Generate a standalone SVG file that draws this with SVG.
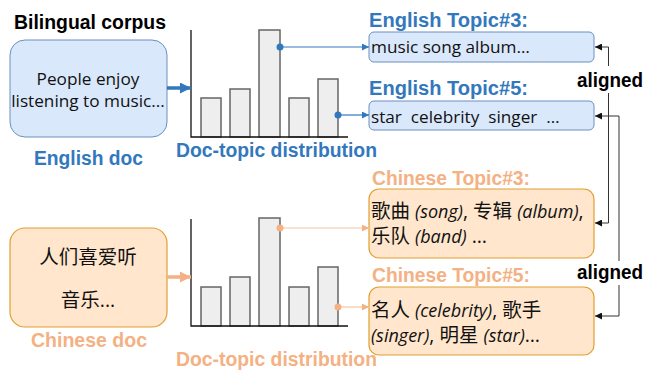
<svg xmlns="http://www.w3.org/2000/svg" width="647" height="371" viewBox="0 0 647 371">
<style>
.lbl{font-family:"Liberation Sans",Arial,sans-serif;font-weight:bold;font-size:19.5px}
.blue{fill:#3278bd}
.org{fill:#f4b183}
.body{font-family:"Open Sans","Noto Sans CJK SC",sans-serif;font-size:17.2px;fill:#111}
.cjk{font-family:"Open Sans","Noto Sans CJK SC",sans-serif;font-size:19.5px;fill:#111}
.it{font-style:italic;font-size:18px}
.ebox{fill:#dae8fc;stroke:#6c8ebf;stroke-width:1}
.cbox{fill:#ffe6cc;stroke:#e0a030;stroke-width:1.2}
.bar{fill:#eeeeee;stroke:#666;stroke-width:1.5}
.axis{stroke:#111;stroke-width:1.3;fill:none}
.bl{stroke:#3278bd;stroke-width:1.2;fill:none}
.ol{stroke:#f8c3a0;stroke-width:1.2;fill:none}
.al{stroke:#333;stroke-width:1;fill:none}
</style>
<defs>
<marker id="ab" viewBox="0 0 10 10" refX="10" refY="5" markerWidth="7" markerHeight="7" markerUnits="userSpaceOnUse" orient="auto"><path d="M0,0 L10,5 L0,10 z" fill="#3278bd"/></marker>
<marker id="ao" viewBox="0 0 10 10" refX="10" refY="5" markerWidth="7" markerHeight="7" markerUnits="userSpaceOnUse" orient="auto"><path d="M0,0 L10,5 L0,10 z" fill="#f4b183"/></marker>
<marker id="ak" viewBox="0 0 10 10" refX="10" refY="5" markerWidth="7" markerHeight="7" markerUnits="userSpaceOnUse" orient="auto-start-reverse"><path d="M0,0 L10,5 L0,10 z" fill="#111"/></marker>
<marker id="bigb" viewBox="0 0 10 10" refX="10" refY="5" markerWidth="11" markerHeight="11" markerUnits="userSpaceOnUse" orient="auto"><path d="M0,0 L10,5 L0,10 z" fill="#3278bd"/></marker>
<marker id="bigo" viewBox="0 0 10 10" refX="10" refY="5" markerWidth="11" markerHeight="11" markerUnits="userSpaceOnUse" orient="auto"><path d="M0,0 L10,5 L0,10 z" fill="#f4b183"/></marker>
</defs>
<rect width="647" height="371" fill="#fff"/>

<text class="lbl" x="14" y="29" fill="#000" textLength="152" lengthAdjust="spacingAndGlyphs">Bilingual corpus</text>

<g id="english-doc">
<rect class="ebox" x="10" y="40" width="157" height="97" rx="15"/>
<text class="body" text-anchor="middle"><tspan x="88" y="85">People enjoy</tspan><tspan x="88" y="107">listening to music...</tspan></text>
<text class="lbl blue" x="34" y="165" textLength="109" lengthAdjust="spacingAndGlyphs">English doc</text>
</g>

<g id="english-chart">
<rect class="bar" x="201" y="98" width="20" height="39"/>
<rect class="bar" x="230" y="89" width="20" height="48"/>
<rect class="bar" x="259" y="30" width="21" height="107"/>
<rect class="bar" x="289" y="98" width="20" height="39"/>
<rect class="bar" x="318" y="79" width="20" height="58"/>
<path class="axis" d="M191,30 V137 H348"/>
<text class="lbl blue" x="176" y="157" textLength="201" lengthAdjust="spacingAndGlyphs">Doc-topic distribution</text>
</g>

<g id="en-topic3">
<text class="lbl blue" x="369" y="27" textLength="159" lengthAdjust="spacingAndGlyphs">English Topic#3:</text>
<rect class="ebox" x="369" y="32" width="225" height="30" rx="5"/>
<text class="body" x="371" y="53">music song album…</text>
</g>

<g id="en-topic5">
<text class="lbl blue" x="369" y="95" textLength="159" lengthAdjust="spacingAndGlyphs">English Topic#5:</text>
<rect class="ebox" x="369" y="101" width="225" height="29" rx="5"/>
<text class="body" x="371" y="123" style="white-space:pre">star  celebrity  singer  …</text>
</g>

<g id="chinese-doc">
<rect class="cbox" x="10" y="228" width="157" height="99" rx="15"/>
<text class="cjk" text-anchor="middle"><tspan x="88" y="264">人们喜爱听</tspan><tspan x="88" y="307">音乐...</tspan></text>
<text class="lbl org" x="31" y="347" textLength="116" lengthAdjust="spacingAndGlyphs">Chinese doc</text>
</g>

<g id="chinese-chart">
<rect class="bar" x="201" y="287" width="20" height="39"/>
<rect class="bar" x="230" y="277" width="20" height="49"/>
<rect class="bar" x="259" y="218" width="21" height="108"/>
<rect class="bar" x="289" y="287" width="20" height="39"/>
<rect class="bar" x="318" y="267" width="20" height="59"/>
<path class="axis" d="M191,219 V326 H348"/>
<text class="lbl org" x="176" y="366" textLength="201" lengthAdjust="spacingAndGlyphs">Doc-topic distribution</text>
</g>

<g id="zh-topic3">
<text class="lbl org" x="372" y="185" textLength="158" lengthAdjust="spacingAndGlyphs">Chinese Topic#3:</text>
<rect class="cbox" x="369" y="189" width="225" height="69" rx="10"/>
<text class="cjk"><tspan x="371" y="218">歌曲 <tspan class="it">(song)</tspan>, 专辑 <tspan class="it">(album)</tspan>,</tspan><tspan x="371" y="243">乐队 <tspan class="it">(band)</tspan> …</tspan></text>
</g>

<g id="zh-topic5">
<text class="lbl org" x="372" y="282" textLength="158" lengthAdjust="spacingAndGlyphs">Chinese Topic#5:</text>
<rect class="cbox" x="369" y="287" width="225" height="68" rx="10"/>
<text class="cjk"><tspan x="371" y="316.5">名人 <tspan class="it">(celebrity)</tspan>, 歌手</tspan><tspan x="371" y="341.5"><tspan class="it">(singer)</tspan>, 明星 <tspan class="it">(star)</tspan>…</tspan></text>
</g>

<g id="connectors">
<line x1="167" y1="88" x2="191" y2="88" stroke="#3278bd" stroke-width="3.5" marker-end="url(#bigb)"/>
<line x1="167" y1="277" x2="191" y2="277" stroke="#f4b183" stroke-width="3.5" marker-end="url(#bigo)"/>
<line class="bl" x1="280" y1="47" x2="369" y2="47" marker-end="url(#ab)"/>
<circle cx="280" cy="47" r="3.5" fill="#3278bd"/>
<line class="bl" x1="338" y1="115" x2="369" y2="115" marker-end="url(#ab)"/>
<circle cx="338" cy="115" r="3.5" fill="#3278bd"/>
<line class="ol" x1="280" y1="228" x2="369" y2="228" marker-end="url(#ao)"/>
<circle cx="280" cy="228" r="3.5" fill="#f4b183"/>
<line class="ol" x1="338" y1="307" x2="369" y2="307" marker-end="url(#ao)"/>
<circle cx="338" cy="307" r="3.5" fill="#f4b183"/>
<path class="al" d="M595,47 H608.5 V223 H595" marker-start="url(#ak)" marker-end="url(#ak)"/>
<path class="al" d="M595,116 H619 V316 H595" marker-start="url(#ak)" marker-end="url(#ak)"/>
<rect x="576" y="66" width="70" height="27" fill="#fff"/>
<text class="lbl" x="577" y="87" fill="#000" textLength="66" lengthAdjust="spacingAndGlyphs">aligned</text>
<rect x="576" y="261" width="70" height="24" fill="#fff"/>
<text class="lbl" x="577" y="279" fill="#000" textLength="66" lengthAdjust="spacingAndGlyphs">aligned</text>
</g>
</svg>
